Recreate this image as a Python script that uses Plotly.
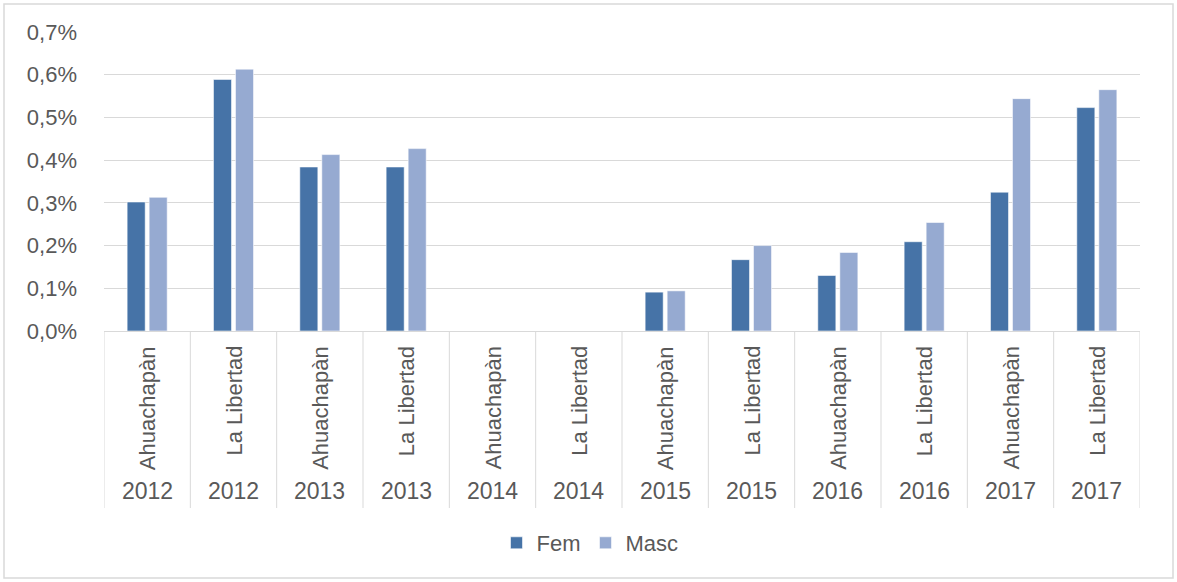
import plotly.graph_objects as go

years = ["2012", "2012", "2013", "2013", "2014", "2014",
         "2015", "2015", "2016", "2016", "2017", "2017"]
districts = ["Ahuachapàn", "La Libertad"] * 6
fem = [0.302, 0.589, 0.384, 0.384, 0.0, 0.0, 0.091, 0.167, 0.130, 0.209, 0.325, 0.523]
masc = [0.313, 0.613, 0.413, 0.427, 0.0, 0.0, 0.094, 0.200, 0.184, 0.254, 0.544, 0.565]
y_ticks = [0.0, 0.1, 0.2, 0.3, 0.4, 0.5, 0.6, 0.7]
y_tick_labels = ["0,0%", "0,1%", "0,2%", "0,3%", "0,4%", "0,5%", "0,6%", "0,7%"]

categories = [f"{d} {y}" for d, y in zip(districts, years)]

FEM_COLOR = "#4673A7"
MASC_COLOR = "#96AAD1"
GRID = "#D9D9D9"
TEXT = "#595959"
FONT = "Liberation Sans, Arial, sans-serif"

fig = go.Figure()
fig.add_trace(go.Bar(x=categories, y=fem, name="Fem",
                     marker=dict(color=FEM_COLOR, line=dict(color="rgba(255,255,255,0.7)", width=0.8))))
fig.add_trace(go.Bar(x=categories, y=masc, name="Masc",
                     marker=dict(color=MASC_COLOR, line=dict(color="rgba(255,255,255,0.7)", width=0.8))))

W, H = 1177, 582
L, R, T, B = 104, 37, 32, 251
pw, ph = W - L - R, H - T - B

def px_to_paper_y(py):
    return (H - B - py) / ph

def px_to_paper_x(pxv):
    return (pxv - L) / pw

shapes = []
# category separators on the x axis
for i in range(len(categories) + 1):
    shapes.append(dict(type="line", xref="x", yref="paper",
                       x0=i - 0.5, x1=i - 0.5, y0=0, y1=px_to_paper_y(508),
                       line=dict(color=GRID, width=1)))
# outer chart border
shapes.append(dict(type="rect", xref="paper", yref="paper",
                   x0=px_to_paper_x(4), x1=px_to_paper_x(1173),
                   y0=px_to_paper_y(578), y1=px_to_paper_y(4),
                   line=dict(color=GRID, width=1.5), fillcolor="rgba(0,0,0,0)", layer="below"))

annotations = []
for c, d, y in zip(categories, districts, years):
    annotations.append(dict(x=c, xref="x", y=px_to_paper_y(344), yref="paper",
                            text=d, textangle=-90, showarrow=False,
                            xanchor="center", yanchor="top",
                            font=dict(family=FONT, size=22, color=TEXT)))
    annotations.append(dict(x=c, xref="x", y=px_to_paper_y(491), yref="paper",
                            text=y, showarrow=False,
                            xanchor="center", yanchor="middle",
                            font=dict(family=FONT, size=23, color=TEXT)))

fig.update_layout(
    width=W, height=H,
    margin=dict(l=L, r=R, t=T, b=B, pad=0),
    paper_bgcolor="white", plot_bgcolor="white",
    barmode="group", bargap=0.49, bargroupgap=0.18,
    font=dict(family=FONT, size=22, color=TEXT),
    showlegend=True,
    legend=dict(orientation="h", x=px_to_paper_x(590), xanchor="center",
                y=px_to_paper_y(543), yanchor="middle",
                font=dict(family=FONT, size=22, color=TEXT),
                itemwidth=30, traceorder="normal", bgcolor="rgba(0,0,0,0)"),
    shapes=shapes, annotations=annotations,
)
fig.update_xaxes(type="category", showticklabels=False, ticks="",
                 showgrid=False, zeroline=False, showline=True, linecolor=GRID, linewidth=1,
                 range=[-0.5, len(categories) - 0.5], fixedrange=True)
fig.update_yaxes(range=[0, 0.7], tickvals=y_ticks, ticktext=y_tick_labels,
                 showgrid=True, gridcolor=GRID, gridwidth=1, zeroline=False,
                 showline=False, ticks="", ticklabelstandoff=26,
                 tickfont=dict(family=FONT, size=22, color=TEXT), fixedrange=True)

fig.write_html("out.html", config={"displayModeBar": False},
               post_script="document.body.style.margin='0px';document.body.style.overflow='hidden';")
